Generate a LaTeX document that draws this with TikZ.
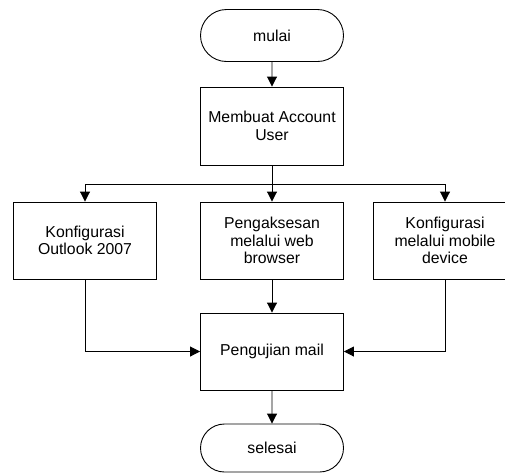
\documentclass[tikz,border=0pt]{standalone}
\usepackage{fontspec}
\setmainfont{Liberation Sans}
\usetikzlibrary{shapes.misc, arrows.meta}

\begin{document}
\begin{tikzpicture}[x=1pt, y=-1pt, line width=0.9pt,
    font=\fontsize{15.8}{17.5}\selectfont,
    terminal/.style={draw, rounded rectangle, minimum width=143pt, inner sep=0pt},
    proses/.style={draw, rectangle, minimum width=143pt, minimum height=77pt, align=center, inner sep=0pt},
    panah/.style={-{Triangle[length=10pt, width=10pt]}}]
            \useasboundingbox (0,0) rectangle (505,475);
            \node[terminal, minimum height=52pt] (mulai) at (272,35.5) {mulai};
            \node[proses, minimum height=78pt] (akun) at (272,126) {Membuat Account\\User};
            \node[proses] (outlook) at (85,240.5) {Konfigurasi\\Outlook 2007};
            \node[proses] (web) at (272,240.5) {Pengaksesan\\melalui web\\browser};
            \node[proses] (mobile) at (445,240.5) {Konfigurasi\\melalui mobile\\device};
            \node[proses] (uji) at (272,351.5) {Pengujian mail};
            \node[terminal, minimum height=48pt] (selesai) at (272,448) {selesai};
            \coordinate (bagi) at (272,184);
            \draw[panah] (mulai) -- (akun);
            \draw (akun) -- (bagi);
            \draw[panah] (bagi) -| (outlook);
            \draw[panah] (bagi) -- (web);
            \draw[panah] (bagi) -| (mobile);
            \draw[panah] (web) -- (uji);
            \draw[panah] (outlook) |- (uji);
            \draw[panah] (mobile) |- (uji);
            \draw[panah] (uji) -- (selesai);
        \end{tikzpicture}
\end{document}
